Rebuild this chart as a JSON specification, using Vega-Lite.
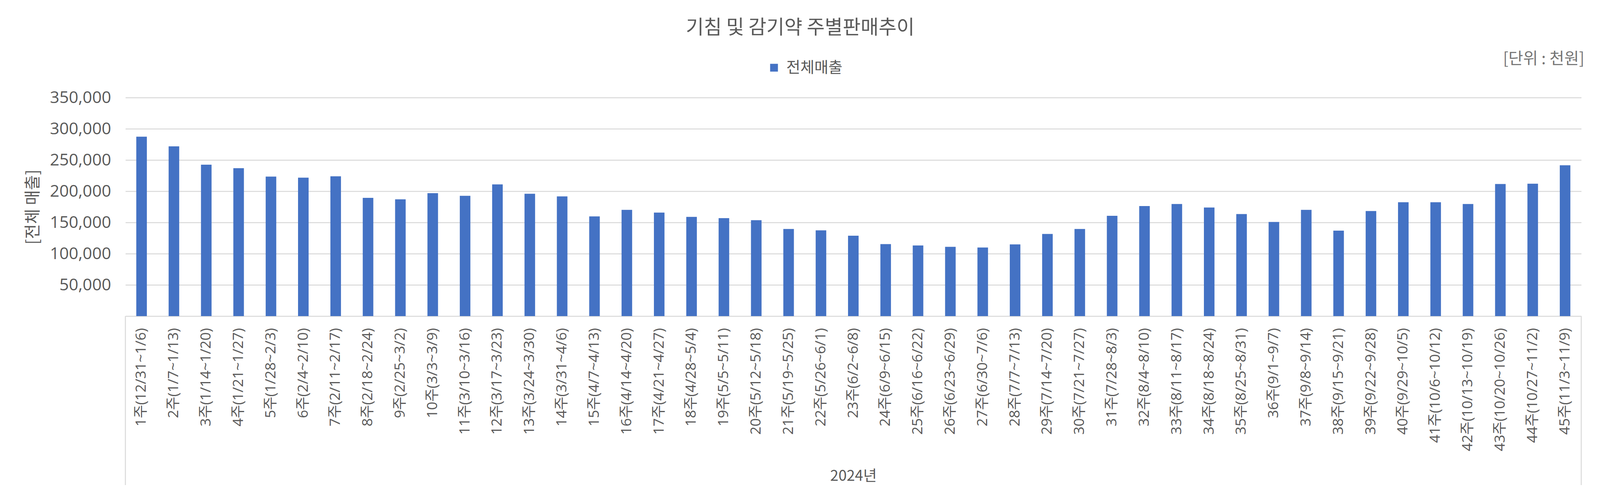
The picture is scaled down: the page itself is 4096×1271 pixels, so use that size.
{
  "$schema": "https://vega.github.io/schema/vega-lite/v6.json",
  "width": 3727,
  "height": 560,
  "autosize": {"type": "none"},
  "padding": {"left": 321, "top": 250, "right": 48, "bottom": 461},
  "background": "white",
  "config": {
    "view": {"stroke": null},
    "font": "Noto Sans CJK KR"
  },
  "title": {
    "text": "기침 및 감기약 주별판매추이",
    "font": "Noto Sans CJK KR",
    "fontSize": 50,
    "fontWeight": "normal",
    "color": "#595959",
    "anchor": "middle",
    "frame": "group",
    "baseline": "bottom",
    "dx": -136,
    "offset": -16
  },
  "datasets": {
    "sales": [
      {"week": "1주(12/31~1/6)", "series": "전체매출", "sales": 287400},
      {"week": "2주(1/7~1/13)", "series": "전체매출", "sales": 271900},
      {"week": "3주(1/14~1/20)", "series": "전체매출", "sales": 242500},
      {"week": "4주(1/21~1/27)", "series": "전체매출", "sales": 236900},
      {"week": "5주(1/28~2/3)", "series": "전체매출", "sales": 223400},
      {"week": "6주(2/4~2/10)", "series": "전체매출", "sales": 221700},
      {"week": "7주(2/11~2/17)", "series": "전체매출", "sales": 223900},
      {"week": "8주(2/18~2/24)", "series": "전체매출", "sales": 189400},
      {"week": "9주(2/25~3/2)", "series": "전체매출", "sales": 187100},
      {"week": "10주(3/3~3/9)", "series": "전체매출", "sales": 196800},
      {"week": "11주(3/10~3/16)", "series": "전체매출", "sales": 192700},
      {"week": "12주(3/17~3/23)", "series": "전체매출", "sales": 211000},
      {"week": "13주(3/24~3/30)", "series": "전체매출", "sales": 196000},
      {"week": "14주(3/31~4/6)", "series": "전체매출", "sales": 191700},
      {"week": "15주(4/7~4/13)", "series": "전체매출", "sales": 159700},
      {"week": "16주(4/14~4/20)", "series": "전체매출", "sales": 170100},
      {"week": "17주(4/21~4/27)", "series": "전체매출", "sales": 165800},
      {"week": "18주(4/28~5/4)", "series": "전체매출", "sales": 158900},
      {"week": "19주(5/5~5/11)", "series": "전체매출", "sales": 156900},
      {"week": "20주(5/12~5/18)", "series": "전체매출", "sales": 153600},
      {"week": "21주(5/19~5/25)", "series": "전체매출", "sales": 139600},
      {"week": "22주(5/26~6/1)", "series": "전체매출", "sales": 137400},
      {"week": "23주(6/2~6/8)", "series": "전체매출", "sales": 128700},
      {"week": "24주(6/9~6/15)", "series": "전체매출", "sales": 115300},
      {"week": "25주(6/16~6/22)", "series": "전체매출", "sales": 113200},
      {"week": "26주(6/23~6/29)", "series": "전체매출", "sales": 111000},
      {"week": "27주(6/30~7/6)", "series": "전체매출", "sales": 109900},
      {"week": "28주(7/7~7/13)", "series": "전체매출", "sales": 114800},
      {"week": "29주(7/14~7/20)", "series": "전체매출", "sales": 131500},
      {"week": "30주(7/21~7/27)", "series": "전체매출", "sales": 139600},
      {"week": "31주(7/28~8/3)", "series": "전체매출", "sales": 160700},
      {"week": "32주(8/4~8/10)", "series": "전체매출", "sales": 176200},
      {"week": "33주(8/11~8/17)", "series": "전체매출", "sales": 179500},
      {"week": "34주(8/18~8/24)", "series": "전체매출", "sales": 173900},
      {"week": "35주(8/25~8/31)", "series": "전체매출", "sales": 163500},
      {"week": "36주(9/1~9/7)", "series": "전체매출", "sales": 150800},
      {"week": "37주(9/8~9/14)", "series": "전체매출", "sales": 170100},
      {"week": "38주(9/15~9/21)", "series": "전체매출", "sales": 136900},
      {"week": "39주(9/22~9/28)", "series": "전체매출", "sales": 168300},
      {"week": "40주(9/29~10/5)", "series": "전체매출", "sales": 182300},
      {"week": "41주(10/6~10/12)", "series": "전체매출", "sales": 182300},
      {"week": "42주(10/13~10/19)", "series": "전체매출", "sales": 179500},
      {"week": "43주(10/20~10/26)", "series": "전체매출", "sales": 211500},
      {"week": "44주(10/27~11/2)", "series": "전체매출", "sales": 212000},
      {"week": "45주(11/3~11/9)", "series": "전체매출", "sales": 241500}
    ],
    "unit": [{"label": "[단위 : 천원]"}]
  },
  "layer": [
    {
      "data": {"name": "sales"},
      "mark": {"type": "bar", "color": "#4472c4", "width": {"band": 0.327}},
      "encoding": {
        "x": {
          "field": "week",
          "type": "nominal",
          "sort": null,
          "scale": {
            "domain": ["1주(12/31~1/6)","2주(1/7~1/13)","3주(1/14~1/20)","4주(1/21~1/27)","5주(1/28~2/3)","6주(2/4~2/10)","7주(2/11~2/17)","8주(2/18~2/24)","9주(2/25~3/2)","10주(3/3~3/9)","11주(3/10~3/16)","12주(3/17~3/23)","13주(3/24~3/30)","14주(3/31~4/6)","15주(4/7~4/13)","16주(4/14~4/20)","17주(4/21~4/27)","18주(4/28~5/4)","19주(5/5~5/11)","20주(5/12~5/18)","21주(5/19~5/25)","22주(5/26~6/1)","23주(6/2~6/8)","24주(6/9~6/15)","25주(6/16~6/22)","26주(6/23~6/29)","27주(6/30~7/6)","28주(7/7~7/13)","29주(7/14~7/20)","30주(7/21~7/27)","31주(7/28~8/3)","32주(8/4~8/10)","33주(8/11~8/17)","34주(8/18~8/24)","35주(8/25~8/31)","36주(9/1~9/7)","37주(9/8~9/14)","38주(9/15~9/21)","39주(9/22~9/28)","40주(9/29~10/5)","41주(10/6~10/12)","42주(10/13~10/19)","43주(10/20~10/26)","44주(10/27~11/2)","45주(11/3~11/9)"],
            "paddingInner": 0,
            "paddingOuter": 0
          },
          "axis": {
            "title": "2024년",
            "titleFont": "Noto Sans CJK KR",
            "titleFontSize": 38,
            "titleFontWeight": "normal",
            "titleColor": "#595959",
            "titleY": 410,
            "titleBaseline": "middle",
            "labelAngle": 270,
            "labelAlign": "right",
            "labelBaseline": "middle",
            "labelFont": "Open Sans, Noto Sans CJK KR",
            "labelFontSize": 37,
            "labelColor": "#595959",
            "labelPadding": 30,
            "labelOverlap": false,
            "labelLimit": 0,
            "domainColor": "#d9d9d9",
            "domainWidth": 2.5,
            "ticks": false,
            "grid": false
          }
        },
        "y": {
          "field": "sales",
          "type": "quantitative",
          "scale": {"domain": [0, 350000], "nice": false, "zero": true},
          "axis": {
            "title": "[전체 매출]",
            "titleFont": "Noto Sans CJK KR",
            "titleFontSize": 42,
            "titleFontWeight": "normal",
            "titleColor": "#595959",
            "titleX": -237,
            "titleBaseline": "middle",
            "values": [50000, 100000, 150000, 200000, 250000, 300000, 350000],
            "format": ",.0f",
            "labelFont": "Open Sans",
            "labelFontSize": 42.5,
            "labelColor": "#595959",
            "labelPadding": 37,
            "domain": false,
            "ticks": false,
            "grid": true,
            "gridColor": "#d9d9d9",
            "gridWidth": 2.5
          }
        },
        "color": {
          "field": "series",
          "type": "nominal",
          "scale": {"domain": ["전체매출"], "range": ["#4472c4"]},
          "legend": {
            "title": null,
            "orient": "none",
            "legendX": 1641,
            "legendY": -96,
            "padding": 0,
            "symbolType": "square",
            "symbolSize": 400,
            "symbolStrokeWidth": 0,
            "labelFont": "Noto Sans CJK KR",
            "labelFontSize": 39,
            "labelColor": "#595959",
            "labelOffset": 12
          }
        }
      }
    },
    {
      "data": {"name": "unit"},
      "mark": {"type": "rule", "color": "#d9d9d9", "strokeWidth": 2.5},
      "encoding": {
        "x": {"datum": "1주(12/31~1/6)", "type": "nominal", "bandPosition": 0},
        "y": {"datum": 0, "type": "quantitative"},
        "y2": {"datum": -270625}
      }
    },
    {
      "data": {"name": "unit"},
      "mark": {"type": "rule", "color": "#d9d9d9", "strokeWidth": 2.5},
      "encoding": {
        "x": {"datum": "45주(11/3~11/9)", "type": "nominal", "bandPosition": 1},
        "y": {"datum": 0, "type": "quantitative"},
        "y2": {"datum": -270625}
      }
    },
    {
      "data": {"name": "unit"},
      "mark": {"type": "text", "align": "right", "baseline": "middle", "dx": 8, "font": "Noto Sans CJK KR", "fontSize": 41, "color": "#757575"},
      "encoding": {
        "x": {"datum": "45주(11/3~11/9)", "type": "nominal", "bandPosition": 1},
        "y": {"datum": 411250, "type": "quantitative"},
        "text": {"field": "label", "type": "nominal"}
      }
    }
  ]
}
